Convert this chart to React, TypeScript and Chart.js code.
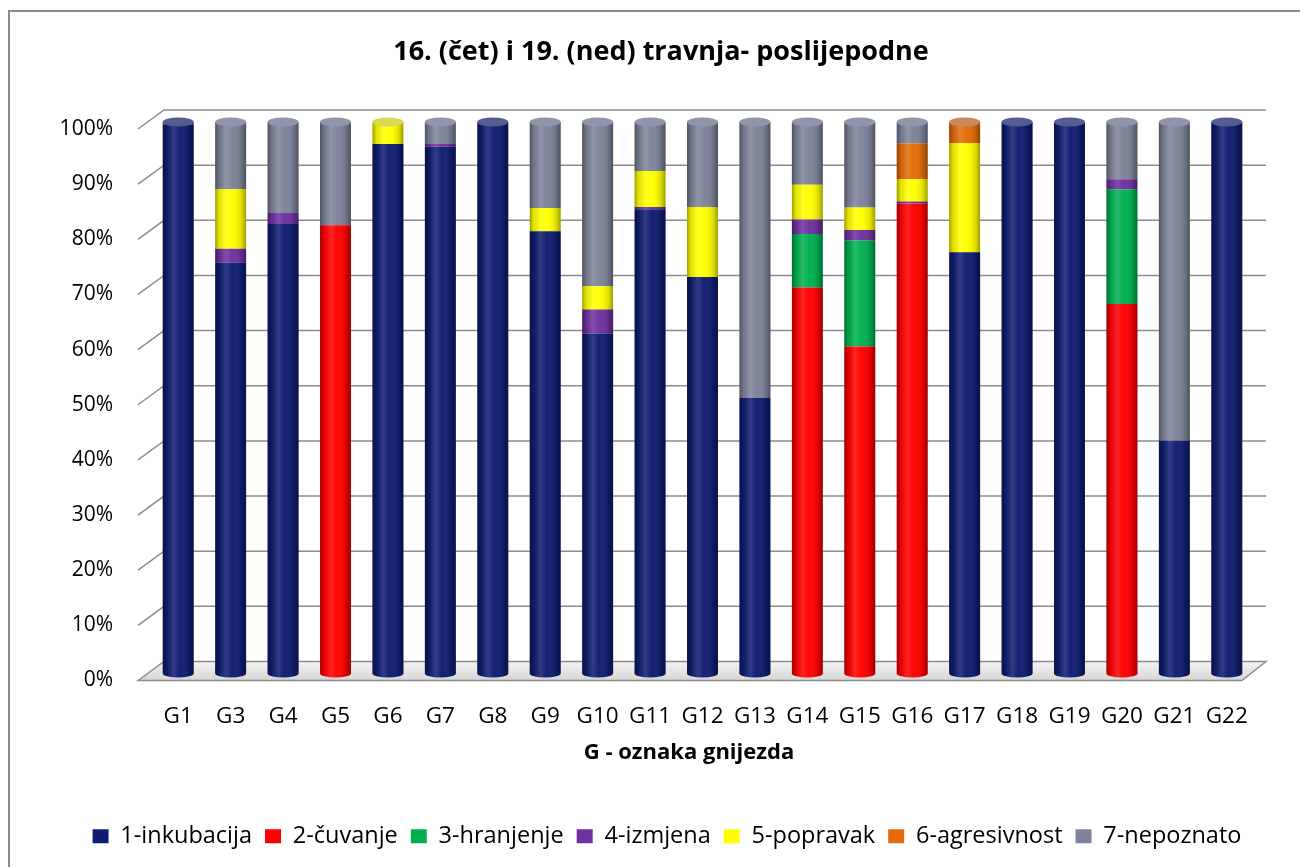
import React, { useEffect, useRef } from 'react';
import { Chart, registerables } from 'chart.js';

Chart.register(...registerables);

const categories = ['G1', 'G3', 'G4', 'G5', 'G6', 'G7', 'G8', 'G9', 'G10', 'G11', 'G12', 'G13', 'G14', 'G15', 'G16', 'G17', 'G18', 'G19', 'G20', 'G21', 'G22'];

const inkubacija = [99.5, 74.5, 81.5, 0, 96, 95.5, 100, 80.2, 61.6, 84.2, 71.9, 50, 0, 0, 0, 76.4, 100, 100, 0, 42.2, 100];
const cuvanje = [0, 0, 0, 81.3, 0, 0, 0, 0, 0, 0, 0, 0, 70, 59.3, 85.2, 0, 0, 0, 67, 0, 0];
const hranjenje = [0, 0, 0, 0, 0, 0, 0, 0, 0, 0, 0, 0, 9.7, 19.2, 0, 0, 0, 0, 20.8, 0, 0];
const izmjena = [0.5, 2.5, 2, 0, 0, 0.5, 0, 0, 4.4, 0.4, 0, 0, 2.6, 1.9, 0.4, 0, 0, 0, 1.8, 0, 0];
const popravak = [0, 10.8, 0, 0, 4, 0, 0, 4.2, 4.2, 6.5, 12.7, 0, 6.3, 4.1, 4, 19.8, 0, 0, 0, 0, 0];
const agresivnost = [0, 0, 0, 0, 0, 0, 0, 0, 0, 0, 0, 0, 0, 0, 6.5, 3.8, 0, 0, 0, 0, 0];
const nepoznato = [0, 12.2, 16.5, 18.7, 0, 4, 0, 15.6, 29.8, 8.9, 15.4, 50, 11.4, 15.5, 3.9, 0, 0, 0, 10.4, 57.8, 0];

const seriesNames = ['1-inkubacija', '2-čuvanje', '3-hranjenje', '4-izmjena', '5-popravak', '6-agresivnost', '7-nepoznato'];
const seriesData = [inkubacija, cuvanje, hranjenje, izmjena, popravak, agresivnost, nepoznato];
const seriesColors = ['#0F1D70', '#FF0000', '#00B050', '#7030A0', '#FFFF00', '#E46C0A', '#7E8399'];

const yTickValues = [0, 10, 20, 30, 40, 50, 60, 70, 80, 90, 100];

const chartTitle = '16. (čet) i 19. (ned) travnja- poslijepodne';
const xTitle = 'G - oznaka gnijezda';

const FONT = "'Open Sans', sans-serif";

function hexToRgb(h: string) {
  const n = parseInt(h.slice(1), 16);
  return [(n >> 16) & 255, (n >> 8) & 255, n & 255];
}
function mix(a: string, b: string, t: number) {
  const A = hexToRgb(a);
  const B = hexToRgb(b);
  const c = A.map((v, i) => Math.round(v * (1 - t) + B[i] * t));
  return `rgb(${c[0]},${c[1]},${c[2]})`;
}

const titles = {
  id: 'titles',
  afterDraw(chart: any) {
    const { ctx, width } = chart;
    ctx.save();
    ctx.fillStyle = '#000';
    ctx.textAlign = 'center';
    ctx.textBaseline = 'middle';
    ctx.font = `bold 27px ${FONT}`;
    ctx.fillText(chartTitle, width / 2 + 6, 40);
    ctx.font = `bold 22px ${FONT}`;
    ctx.fillText(xTitle, width / 2 + 34, 741);
    ctx.restore();
  },
};

const threeD = {
  id: 'threeD',
  beforeDatasetsDraw(chart: any) {
    const { ctx, chartArea: ca, scales } = chart;
    const y = scales.y;
    const y0 = y.getPixelForValue(0);
    const fl = ca.left - 14;
    const bl = ca.left + 12;
    const br = ca.right + 13;
    const fr = ca.right - 11;
    const fy = y0 + 7;
    const by = y0 - 12;
    ctx.save();
    ctx.beginPath();
    ctx.moveTo(fl, fy);
    ctx.lineTo(bl, by);
    ctx.lineTo(br, by);
    ctx.lineTo(fr, fy);
    ctx.closePath();
    const g = ctx.createLinearGradient(0, by, 0, fy);
    g.addColorStop(0, '#f4f4f4');
    g.addColorStop(1, '#d6d6d6');
    ctx.fillStyle = g;
    ctx.fill();
    ctx.strokeStyle = '#8c8c8c';
    ctx.lineWidth = 1.5;
    ctx.stroke();
    for (const v of yTickValues) {
      if (v === 0) continue;
      const py = y.getPixelForValue(v);
      ctx.beginPath();
      ctx.moveTo(fl, py + 7);
      ctx.lineTo(bl, py - 12);
      ctx.lineTo(br, py - 12);
      ctx.stroke();
    }
    ctx.restore();
  },
  afterDatasetsDraw(chart: any) {
    const { ctx } = chart;
    const metas = chart.getSortedVisibleDatasetMetas();
    ctx.save();
    for (let i = 0; i < categories.length; i++) {
      let topY = Infinity;
      let botY = -Infinity;
      let capY = Infinity;
      let topColor = seriesColors[0];
      let botColor = seriesColors[0];
      let x = 0;
      let w = 0;
      metas.forEach((m: any, k: number) => {
        const el = m.data[i];
        if (!el) return;
        x = el.x;
        w = el.width;
        const v = seriesData[k][i];
        if (v > 0) {
          if (el.y < topY) topY = el.y;
          if (v >= 1.5 && el.y < capY) { capY = el.y; topColor = seriesColors[k]; }
          if (el.base > botY) { botY = el.base; botColor = seriesColors[k]; }
        }
      });
      if (!isFinite(topY)) continue;
      const rx = w / 2;
      ctx.fillStyle = botColor;
      ctx.beginPath();
      ctx.ellipse(x, botY, rx, 4, 0, 0, Math.PI * 2);
      ctx.fill();
      const gr = ctx.createLinearGradient(x - rx, 0, x + rx, 0);
      gr.addColorStop(0, 'rgba(0,0,0,0.38)');
      gr.addColorStop(0.12, 'rgba(0,0,0,0.12)');
      gr.addColorStop(0.35, 'rgba(255,255,255,0.14)');
      gr.addColorStop(0.55, 'rgba(255,255,255,0.02)');
      gr.addColorStop(0.85, 'rgba(0,0,0,0.14)');
      gr.addColorStop(1, 'rgba(0,0,0,0.38)');
      ctx.fillStyle = gr;
      ctx.beginPath();
      ctx.rect(x - rx, topY, w, botY - topY);
      ctx.fill();
      ctx.beginPath();
      ctx.ellipse(x, botY, rx, 4, 0, 0, Math.PI);
      ctx.fill();
      ctx.fillStyle = mix(topColor, '#a8acbc', 0.45);
      ctx.beginPath();
      ctx.ellipse(x, topY, rx, 4.5, 0, 0, Math.PI * 2);
      ctx.fill();
    }
    ctx.restore();
  },
};

export default function App() {
  const ref = useRef<HTMLCanvasElement | null>(null);
  useEffect(() => {
    if (!ref.current) return;
    const chart = new Chart(ref.current, {
      type: 'bar',
      data: {
        labels: categories,
        datasets: seriesNames.map((name, k) => ({
          label: name,
          data: seriesData[k],
          backgroundColor: seriesColors[k],
          borderWidth: 0,
          barPercentage: 0.59,
          categoryPercentage: 1,
        })),
      },
      options: {
        responsive: false,
        animation: false,
        layout: { padding: { left: 24, right: 0, top: 110, bottom: 9 } },
        plugins: {
          title: { display: false },
          legend: {
            position: 'bottom',
            labels: {
              color: '#000',
              font: { family: FONT, size: 23.5 },
              boxWidth: 16,
              boxHeight: 14,
              padding: 13,
            },
          },
          tooltip: { enabled: false },
        },
        scales: {
          x: {
            stacked: true,
            grid: { display: false, drawTicks: false },
            border: { display: false },
            ticks: { color: '#000', font: { family: FONT, size: 22.5 }, padding: 29.5, maxRotation: 0, autoSkip: false },
            afterFit: (s: any) => { s.height = 138; },
          },
          y: {
            stacked: true,
            min: 0,
            max: 100,
            grid: { display: false, drawTicks: false },
            border: { display: false },
            ticks: {
              color: '#000',
              font: { family: FONT, size: 21 },
              stepSize: 10,
              padding: 39,
              labelOffset: 7,
              callback: (v: any) => v + '%',
            },
            afterFit: (s: any) => { s.width = 118; },
          },
          yRight: {
            position: 'right',
            min: 0,
            max: 100,
            grid: { display: false, drawTicks: false },
            border: { display: false },
            ticks: { display: false },
            afterFit: (s: any) => { s.width = 47; },
          },
        },
      },
      plugins: [threeD, titles],
    });
    return () => chart.destroy();
  }, []);
  return (
    <div style={{ position: 'relative', top: 2, width: 1290, height: 870, border: '2px solid #8c8c8c', background: '#fff' }}>
      <canvas ref={ref} width={1290} height={855} style={{ display: 'block' }} />
    </div>
  );
}
